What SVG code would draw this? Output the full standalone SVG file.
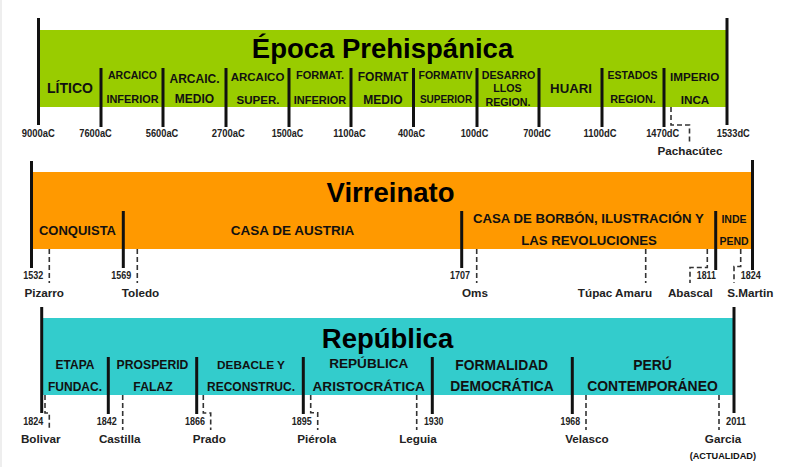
<svg xmlns="http://www.w3.org/2000/svg" width="800" height="467" viewBox="0 0 800 467">
<style>
text{font-family:"Liberation Sans",Arial,sans-serif;font-weight:bold;text-anchor:middle;fill:#111}
.title{font-size:27.5px;fill:#000}
.yr{font-size:10.5px;fill:#222}
.yr2{font-size:10px;fill:#222}
.nm{font-size:11.7px;fill:#222}
.solid{stroke:#111;stroke-width:3;fill:none}
.dash{stroke:#333;stroke-width:1.6;stroke-dasharray:5 3;fill:none}
</style>
<rect x="0" y="0" width="800" height="467" fill="#fff"/>
<line x1="1" y1="0" x2="1" y2="467" stroke="#eeeeee" stroke-width="2"/>

<!-- Bands -->
<g id="band-prehispanica">
<rect x="39" y="30" width="687" height="77" fill="#99CC00"/>
<text class="title" x="382.5" y="58">Época Prehispánica</text>
</g>
<g id="band-virreinato">
<rect x="32" y="172" width="720" height="77" fill="#FF9900"/>
<text class="title" x="390.5" y="201.5">Virreinato</text>
</g>
<g id="band-republica">
<rect x="43" y="318" width="690" height="77" fill="#33CCCC"/>
<text class="title" x="387.5" y="347.5">República</text>
</g>

<!-- Connectors: timeline ticks and leaders -->
<g id="connectors">
<line class="solid" x1="38.5" y1="18" x2="38.5" y2="125"/>
<line class="solid" x1="727" y1="18" x2="727" y2="125"/>
<line class="solid" x1="101" y1="68" x2="101" y2="127"/>
<line class="solid" x1="163" y1="68" x2="163" y2="127"/>
<line class="solid" x1="226" y1="68" x2="226" y2="127"/>
<line class="solid" x1="289" y1="68" x2="289" y2="127"/>
<line class="solid" x1="351" y1="68" x2="351" y2="127"/>
<line class="solid" x1="413.5" y1="68" x2="413.5" y2="127"/>
<line class="solid" x1="477" y1="68" x2="477" y2="127"/>
<line class="solid" x1="539" y1="68" x2="539" y2="127"/>
<line class="solid" x1="602" y1="68" x2="602" y2="127"/>
<line class="solid" x1="664" y1="68" x2="664" y2="127"/>
<polyline class="dash" points="671,107 671,125 689.5,125 689.5,142"/>

<line class="solid" x1="31.5" y1="161" x2="31.5" y2="268"/>
<line class="solid" x1="752.5" y1="160" x2="752.5" y2="270"/>
<line class="solid" x1="123.3" y1="211" x2="123.3" y2="268"/>
<line class="solid" x1="461.7" y1="211" x2="461.7" y2="268"/>
<line class="solid" x1="715.7" y1="211" x2="715.7" y2="270"/>
<line class="dash" x1="49.3" y1="249" x2="49.3" y2="283"/>
<line class="dash" x1="137.3" y1="249" x2="137.3" y2="283"/>
<line class="dash" x1="476.7" y1="249" x2="476.7" y2="283"/>
<line class="dash" x1="645.7" y1="249" x2="645.7" y2="283"/>
<polyline class="dash" points="707.3,249 707.3,267.5 690,267.5 690,283"/>
<polyline class="dash" points="740.7,249 740.7,266.5 734,266.5 734,283"/>

<line class="solid" x1="41.7" y1="307" x2="41.7" y2="413"/>
<line class="solid" x1="734" y1="307" x2="734" y2="413"/>
<line class="solid" x1="108.3" y1="357" x2="108.3" y2="414"/>
<line class="solid" x1="196.7" y1="357" x2="196.7" y2="414"/>
<line class="solid" x1="303.3" y1="357" x2="303.3" y2="414"/>
<line class="solid" x1="432.3" y1="357" x2="432.3" y2="414"/>
<line class="solid" x1="572.3" y1="357" x2="572.3" y2="414"/>
<polyline class="dash" points="45,395 45,413 49.3,413 49.3,430"/>
<line class="dash" x1="122.7" y1="395" x2="122.7" y2="430"/>
<polyline class="dash" points="203.3,395 203.3,413 210.7,413 210.7,430"/>
<polyline class="dash" points="310.7,395 310.7,412.7 317.7,412.7 317.7,430"/>
<line class="dash" x1="416.7" y1="395" x2="416.7" y2="430"/>
<line class="dash" x1="586" y1="395" x2="586" y2="430"/>
<line class="dash" x1="719" y1="395" x2="719" y2="430"/>
</g>

<!-- Prehispanic periods -->
<g id="p-litico"><text x="70" y="93" font-size="14">LÍTICO</text></g>
<g id="p-arcaico-inferior"><text x="132.5" y="79" font-size="10.5">ARCAICO</text><text x="132.5" y="103.3" font-size="10.9">INFERIOR</text></g>
<g id="p-arcaico-medio"><text x="194.5" y="82.5" font-size="12">ARCAIC.</text><text x="194.5" y="103.3" font-size="12">MEDIO</text></g>
<g id="p-arcaico-superior"><text x="257.5" y="80.7" font-size="11.5">ARCAICO</text><text x="258" y="104" font-size="11.5">SUPER.</text></g>
<g id="p-formativo-inferior"><text x="320" y="79" font-size="11">FORMAT.</text><text x="320" y="104" font-size="11">INFERIOR</text></g>
<g id="p-formativo-medio"><text x="383" y="80.7" font-size="12">FORMAT</text><text x="383" y="104" font-size="12">MEDIO</text></g>
<g id="p-formativo-superior"><text x="445.5" y="79" font-size="10.5">FORMATIV</text><text x="446" y="103.3" font-size="10">SUPERIOR</text></g>
<g id="p-desarrollos"><text x="508.5" y="79" font-size="10.7">DESARRO</text><text x="507.5" y="92.3" font-size="10.7">LLOS</text><text x="508" y="105.7" font-size="10.7">REGION.</text></g>
<g id="p-huari"><text x="571" y="93.3" font-size="13.2">HUARI</text></g>
<g id="p-estados"><text x="632.5" y="79" font-size="10.5">ESTADOS</text><text x="633" y="103.3" font-size="10.8">REGION.</text></g>
<g id="p-imperio"><text x="694.7" y="80.7" font-size="11.7">IMPERIO</text><text x="695" y="104" font-size="11.7">INCA</text></g>

<!-- Prehispanic years -->
<g id="y-prehispanica">
<text class="yr" x="38.3" y="136.7" textLength="33" lengthAdjust="spacingAndGlyphs">9000aC</text>
<text class="yr" x="95.5" y="136.7" textLength="32.5" lengthAdjust="spacingAndGlyphs">7600aC</text>
<text class="yr" x="162" y="136.7" textLength="32.5" lengthAdjust="spacingAndGlyphs">5600aC</text>
<text class="yr" x="228.3" y="136.7" textLength="33" lengthAdjust="spacingAndGlyphs">2700aC</text>
<text class="yr" x="287.5" y="136.7" textLength="31.5" lengthAdjust="spacingAndGlyphs">1500aC</text>
<text class="yr" x="349.5" y="136.7" textLength="32.5" lengthAdjust="spacingAndGlyphs">1100aC</text>
<text class="yr" x="411.5" y="136.7" textLength="27" lengthAdjust="spacingAndGlyphs">400aC</text>
<text class="yr" x="474.5" y="136.7" textLength="27.5" lengthAdjust="spacingAndGlyphs">100dC</text>
<text class="yr" x="537" y="136.7" textLength="27.5" lengthAdjust="spacingAndGlyphs">700dC</text>
<text class="yr" x="600" y="136.7" textLength="33" lengthAdjust="spacingAndGlyphs">1100dC</text>
<text class="yr" x="662.7" y="136.7" textLength="33" lengthAdjust="spacingAndGlyphs">1470dC</text>
<text class="yr" x="733.3" y="136.7" textLength="33" lengthAdjust="spacingAndGlyphs">1533dC</text>
</g>
<g id="e-pachacutec"><text class="nm" x="690" y="155">Pachacútec</text></g>

<!-- Virreinato periods -->
<g id="v-conquista"><text x="77.5" y="235" font-size="13">CONQUISTA</text></g>
<g id="v-austria"><text x="292.5" y="235" font-size="13.5">CASA DE AUSTRIA</text></g>
<g id="v-borbon"><text x="588.3" y="223.3" font-size="13.2">CASA DE BORBÓN, ILUSTRACIÓN Y</text><text x="589" y="245" font-size="13.2">LAS REVOLUCIONES</text></g>
<g id="v-independencia"><text x="734" y="223.3" font-size="10.5">INDE</text><text x="734" y="245" font-size="10.5">PEND</text></g>

<g id="y-virreinato">
<text class="yr2" x="33.3" y="279" textLength="20" lengthAdjust="spacingAndGlyphs">1532</text>
<text class="yr2" x="121.3" y="279" textLength="20" lengthAdjust="spacingAndGlyphs">1569</text>
<text class="yr2" x="460" y="279" textLength="20" lengthAdjust="spacingAndGlyphs">1707</text>
<text class="yr2" x="706.3" y="279" textLength="19" lengthAdjust="spacingAndGlyphs">1811</text>
<text class="yr2" x="750.7" y="279" textLength="20" lengthAdjust="spacingAndGlyphs">1824</text>
</g>
<g id="e-pizarro"><text class="nm" x="44.2" y="296.7">Pizarro</text></g>
<g id="e-toledo"><text class="nm" x="140.5" y="296.7">Toledo</text></g>
<g id="e-oms"><text class="nm" x="475" y="296.7">Oms</text></g>
<g id="e-tupac"><text class="nm" x="615" y="296.7">Túpac Amaru</text></g>
<g id="e-abascal"><text class="nm" x="690.3" y="296.7">Abascal</text></g>
<g id="e-sanmartin"><text class="nm" x="750.3" y="296.7">S.Martin</text></g>

<!-- República periods -->
<g id="r-etapa"><text x="75" y="369" font-size="12">ETAPA</text><text x="75" y="390.7" font-size="12">FUNDAC.</text></g>
<g id="r-prosperidad"><text x="152.5" y="369" font-size="12.2">PROSPERID</text><text x="153" y="390.7" font-size="12.2">FALAZ</text></g>
<g id="r-debacle"><text x="251" y="369" font-size="11.8">DEBACLE Y</text><text x="251" y="390.7" font-size="12">RECONSTRUC.</text></g>
<g id="r-aristocratica"><text x="368.8" y="368.3" font-size="13.6">REPÚBLICA</text><text x="368.7" y="390.7" font-size="13.6">ARISTOCRÁTICA</text></g>
<g id="r-formalidad"><text x="501.7" y="370" font-size="13.8">FORMALIDAD</text><text x="502" y="390.7" font-size="13.8">DEMOCRÁTICA</text></g>
<g id="r-peru"><text x="652.5" y="370" font-size="13.9">PERÚ</text><text x="652.5" y="390.7" font-size="13.9">CONTEMPORÁNEO</text></g>

<g id="y-republica">
<text class="yr2" x="33.3" y="425" textLength="20" lengthAdjust="spacingAndGlyphs">1824</text>
<text class="yr2" x="106.7" y="425" textLength="20" lengthAdjust="spacingAndGlyphs">1842</text>
<text class="yr2" x="195" y="425" textLength="20" lengthAdjust="spacingAndGlyphs">1866</text>
<text class="yr2" x="301.7" y="425" textLength="20" lengthAdjust="spacingAndGlyphs">1895</text>
<text class="yr2" x="433.7" y="425" textLength="19.5" lengthAdjust="spacingAndGlyphs">1930</text>
<text class="yr2" x="570.3" y="425" textLength="19.5" lengthAdjust="spacingAndGlyphs">1968</text>
<text class="yr2" x="736" y="425" textLength="20" lengthAdjust="spacingAndGlyphs">2011</text>
</g>
<g id="e-bolivar"><text class="nm" x="40.7" y="443.3">Bolivar</text></g>
<g id="e-castilla"><text class="nm" x="119.7" y="443.3">Castilla</text></g>
<g id="e-prado"><text class="nm" x="209.3" y="443.3">Prado</text></g>
<g id="e-pierola"><text class="nm" x="316.7" y="443.3">Piérola</text></g>
<g id="e-leguia"><text class="nm" x="418" y="443.3">Leguia</text></g>
<g id="e-velasco"><text class="nm" x="587" y="443.3">Velasco</text></g>
<g id="e-garcia"><text class="nm" x="723" y="443.3">Garcia</text><text x="722.8" y="459" font-size="9.2" fill="#222">(ACTUALIDAD)</text></g>
</svg>
